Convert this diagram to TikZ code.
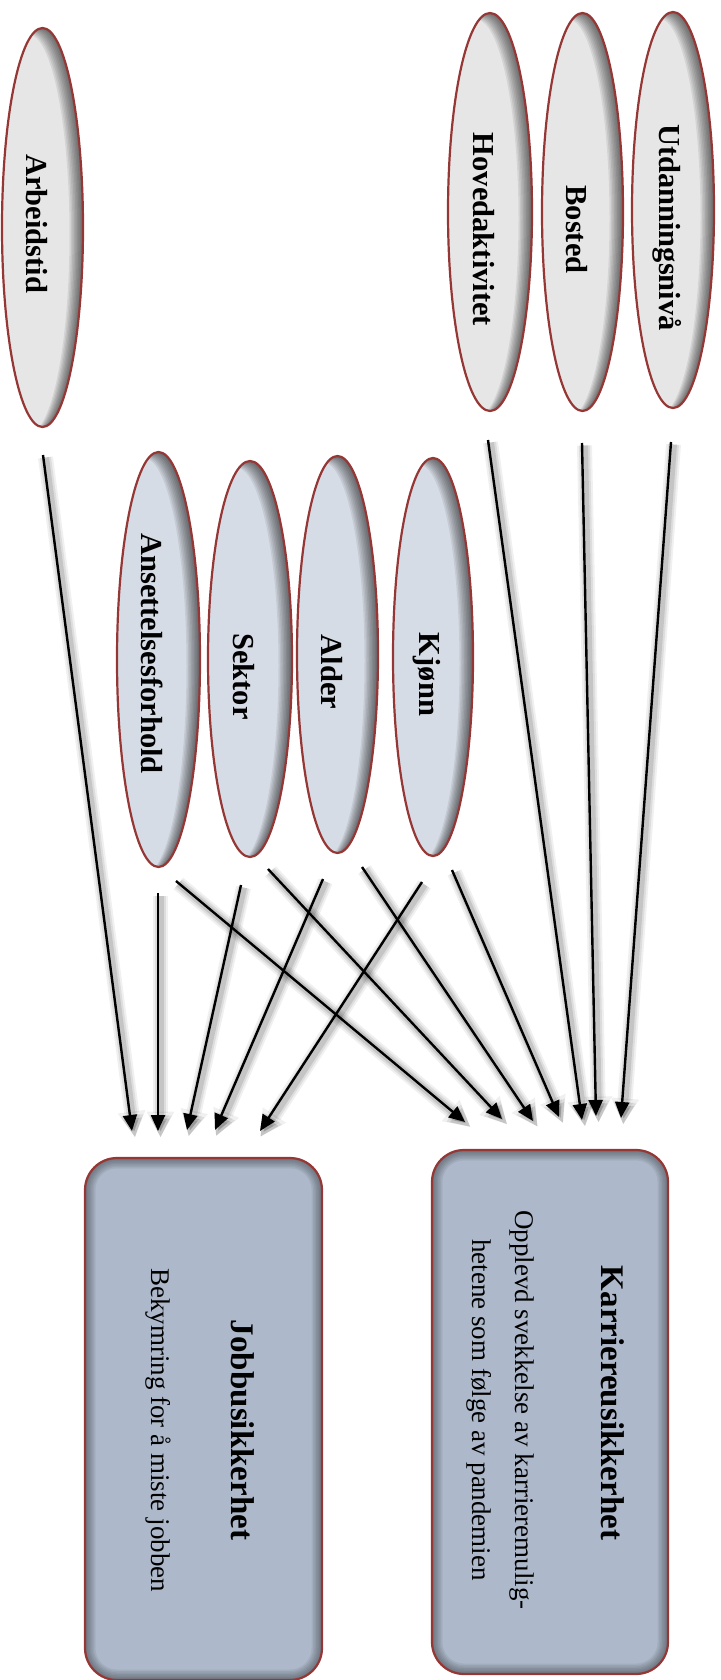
\documentclass[tikz,border=0pt]{standalone}
\usepackage{fontspec}
\setmainfont{Liberation Serif}
\usepackage{graphicx}
\usetikzlibrary{arrows.meta,shapes.geometric,calc}
\definecolor{bord}{HTML}{953735}
\definecolor{topfill}{HTML}{E6E6E6}
\definecolor{lowfill}{HTML}{D6DCE5}
\definecolor{boxfill}{HTML}{ADB9CA}
\newcommand\innerell{%
  \foreach \d in {1.5,3,...,13.5}{%
    \fill[black,opacity=0.075,even odd rule]
      let \p1=(path picture bounding box.south west),
          \p2=(path picture bounding box.north east) in
      ({\x1-30pt},{\y1-30pt}) rectangle ({\x2+30pt},{\y2+30pt})
      ({(\x1+\x2)/2-\d*1pt},{(\y1+\y2)/2-0.5*\d*1pt})
        ellipse [x radius={(\x2-\x1)/2}, y radius={(\y2-\y1)/2}];
  }}
\newcommand\innerbox{%
  \foreach \d in {1.5,3,...,10.5}{%
    \fill[black,opacity=0.06,even odd rule,sharp corners]
      let \p1=(path picture bounding box.south west),
          \p2=(path picture bounding box.north east) in
      ({\x1-30pt},{\y1-30pt}) rectangle ({\x2+30pt},{\y2+30pt})
      [rounded corners={32pt-\d*1pt}]
      ({\x1+\d*1pt},{\y1+\d*1pt}) rectangle ({\x2-\d*1pt},{\y2-\d*1pt});
  }}
\newcommand\glowline[2]{%
  \foreach \gw/\go/\gl/\gb in {15/0.06/26/26,11/0.08/22/21,7/0.11/19/17}{%
    \draw[black,line width=\gw pt,opacity=\go,shorten >=-4pt,
      -{Triangle[length=\gl pt,width=\gb pt]}]
      ([shift={(2.5pt,-2.5pt)}]#1) -- ([shift={(2.5pt,-2.5pt)}]#2);
  }}
\newcommand\vlab[2]{{\rotatebox{-90}{\kern#1\relax #2}\kern12pt}}
\begin{document}
\begin{tikzpicture}[x=1pt,y=-1pt,
  every node/.style={inner sep=0pt,outer sep=0pt},
  ell/.style={ellipse,draw=bord,line width=2.2pt,
    font=\bfseries\fontsize{30.5}{31}\selectfont,path picture={\innerell}},
  topell/.style={ell,fill=topfill},
  lowell/.style={ell,fill=lowfill},
  resbox/.style={rectangle,rounded corners=32pt,draw=bord,line width=2.2pt,
    fill=boxfill,path picture={\innerbox}},
  ttl/.style={font=\bfseries\fontsize{33}{40}\selectfont},
  bdy/.style={font=\fontsize{27}{43}\selectfont},
  conn/.style={line width=2.4pt,-{Triangle[length=16pt,width=14pt]}}]
\useasboundingbox (0,0) rectangle (720,1680);

% top ellipses
\node[topell,minimum width=81pt,minimum height=399pt] (arb) at (42.5,227.5) {\vlab{-8pt}{Arbeidstid}};
\node[topell,minimum width=84pt,minimum height=398pt] (hov) at (490,212) {\vlab{35pt}{Hovedaktivitet}};
\node[topell,minimum width=81pt,minimum height=398pt] (bos) at (582.5,212) {\vlab{35pt}{Bosted}};
\node[topell,minimum width=82pt,minimum height=396pt] (utd) at (673,210) {\vlab{35pt}{Utdanningsnivå}};

% lower ellipses
\node[lowell,minimum width=83pt,minimum height=415pt] (ans) at (158.5,659.5) {\vlab{-12pt}{Ansettelsesforhold}};
\node[lowell,minimum width=84pt,minimum height=396pt] (sek) at (250,659) {\vlab{35pt}{Sektor}};
\node[lowell,minimum width=81pt,minimum height=397pt] (ald) at (337.5,654.5) {\vlab{35pt}{Alder}};
\node[lowell,minimum width=80pt,minimum height=398pt] (kjo) at (433,657) {\vlab{35pt}{Kjønn}};

% outcome boxes
\node[resbox,minimum width=237pt,minimum height=522pt] (job) at (203.5,1419) {};
\node[resbox,minimum width=236pt,minimum height=524pt] (kar) at (550,1412) {};
\node[ttl,anchor=base,rotate=-90] (jobt) at (231,1430) {Jobbusikkerhet};
\node[bdy,anchor=base,rotate=-90] (jobd) at (151,1430) {Bekymring for å miste jobben};
\node[ttl,anchor=base,rotate=-90] (kart) at (601,1403) {Karriereusikkerhet};
\node[bdy,align=center,rotate=-90] (kard) at (500,1410) {Opplevd svekkelse av karrieremulig-\\hetene som følge av pandemien};

% connector ends
\coordinate (arb-j) at (43,455);   \coordinate (job-1) at (132,1131);
\coordinate (ans-j) at (158,893);  \coordinate (job-2) at (158,1131);
\coordinate (sek-j) at (241,885);  \coordinate (job-3) at (187,1130);
\coordinate (ald-j) at (323,879);  \coordinate (job-4) at (215,1130);
\coordinate (kjo-j) at (422,882);  \coordinate (job-5) at (260,1131);
\coordinate (ans-k) at (176,881);  \coordinate (kar-1) at (465,1122);
\coordinate (sek-k) at (268,869);  \coordinate (kar-2) at (502,1119);
\coordinate (ald-k) at (362,867);  \coordinate (kar-3) at (533,1121);
\coordinate (kjo-k) at (452,870);  \coordinate (kar-4) at (559,1117);
\coordinate (hov-k) at (488,440);  \coordinate (kar-5) at (582,1120);
\coordinate (bos-k) at (582,443);  \coordinate (kar-6) at (596,1116);
\coordinate (utd-k) at (671,442);  \coordinate (kar-7) at (621,1118);

\foreach \ca/\cb in {arb-j/job-1,ans-j/job-2,sek-j/job-3,ald-j/job-4,kjo-j/job-5,
  ans-k/kar-1,sek-k/kar-2,ald-k/kar-3,kjo-k/kar-4,hov-k/kar-5,bos-k/kar-6,utd-k/kar-7}
  {\glowline{\ca}{\cb}}
\foreach \ca/\cb in {arb-j/job-1,ans-j/job-2,sek-j/job-3,ald-j/job-4,kjo-j/job-5,
  ans-k/kar-1,sek-k/kar-2,ald-k/kar-3,kjo-k/kar-4,hov-k/kar-5,bos-k/kar-6,utd-k/kar-7}
  {\draw[conn] (\ca) -- (\cb);}
\end{tikzpicture}
\end{document}
